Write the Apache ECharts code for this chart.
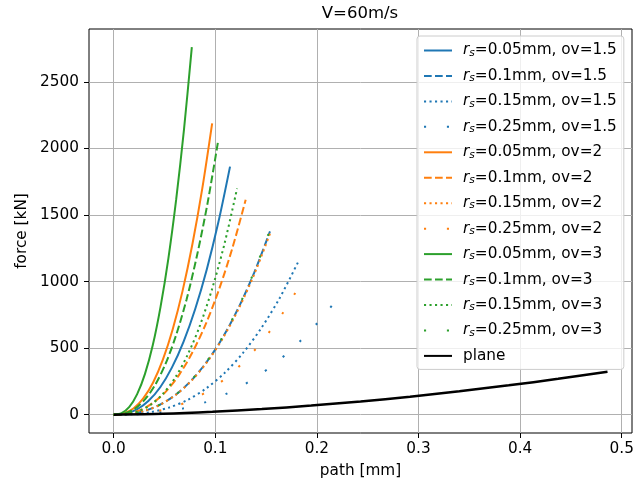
<!DOCTYPE html>
<html>
<head>
<meta charset="utf-8">
<script src="https://cdn.jsdelivr.net/npm/echarts@6/dist/echarts.min.js"></script>
<style>
html,body{margin:0;padding:0;background:#fff;}
#chart{width:643px;height:484px;}
</style>
</head>
<body>
<div id="chart"></div>
<script>
// ---- data ----
const xTicks = [0, 0.1, 0.2, 0.3, 0.4, 0.5];
const yTicks = [0, 500, 1000, 1500, 2000, 2500];

// ov = 1.5 (blue)
const path_005_15 = [0, 0.01145, 0.0229, 0.03435, 0.0458, 0.05725, 0.0687, 0.08015, 0.0916, 0.10305, 0.1145];
const force_005_15 = [0, 7, 39, 104, 206, 353, 547, 792, 1091, 1447, 1864];
const path_01_15 = [0, 0.0154, 0.0308, 0.0461, 0.0615, 0.0769, 0.0923, 0.1077, 0.123, 0.1384, 0.1538];
const force_01_15 = [0, 5, 29, 77, 152, 261, 404, 585, 806, 1069, 1377];
const path_015_15 = [0, 0.0182, 0.0364, 0.0546, 0.0728, 0.091, 0.1091, 0.1273, 0.1455, 0.1637, 0.1819];
const force_015_15 = [0, 3, 19, 54, 111, 197, 313, 464, 653, 881, 1153];
const path_025_15 = [0, 0.0226, 0.0453, 0.0679, 0.0906, 0.1132, 0.1358, 0.1585, 0.1811, 0.2038, 0.2264];
const force_025_15 = [0, 3, 17, 46, 94, 165, 260, 383, 534, 717, 933];

// ov = 2 (orange)
const path_005_2 = [0, 0.0097, 0.0194, 0.0291, 0.0388, 0.0485, 0.0581, 0.0678, 0.0775, 0.0872, 0.0969];
const force_005_2 = [0, 9, 46, 122, 242, 415, 642, 930, 1282, 1700, 2189];
const path_01_2 = [0, 0.013, 0.026, 0.039, 0.052, 0.065, 0.0779, 0.0909, 0.1039, 0.1169, 0.1299];
const force_01_2 = [0, 6, 34, 90, 179, 306, 474, 686, 946, 1254, 1615];
const path_015_2 = [0, 0.0154, 0.0308, 0.0461, 0.0615, 0.0769, 0.0923, 0.1077, 0.123, 0.1384, 0.1538];
const force_015_2 = [0, 5, 29, 76, 151, 258, 399, 578, 796, 1056, 1360];
const path_025_2 = [0, 0.0187, 0.0375, 0.0562, 0.075, 0.0937, 0.1124, 0.1312, 0.1499, 0.1687, 0.1874];
const force_025_2 = [0, 3, 18, 51, 104, 182, 287, 421, 588, 790, 1028];

// ov = 3 (green)
const path_005_3 = [0, 0.0077, 0.0154, 0.0231, 0.0308, 0.0385, 0.0461, 0.0538, 0.0615, 0.0692, 0.0769];
const force_005_3 = [0, 11, 58, 154, 306, 523, 810, 1173, 1617, 2144, 2762];
const path_01_3 = [0, 0.0103, 0.0205, 0.0308, 0.041, 0.0513, 0.0615, 0.0718, 0.082, 0.0923, 0.1025];
const force_01_3 = [0, 8, 43, 114, 226, 387, 599, 868, 1196, 1586, 2043];
const path_015_3 = [0, 0.0121, 0.0243, 0.0364, 0.0486, 0.0607, 0.0728, 0.085, 0.0971, 0.1093, 0.1214];
const force_015_3 = [0, 4, 26, 74, 157, 280, 450, 672, 951, 1292, 1699];
const path_025_3 = [0, 0.0153, 0.0306, 0.0458, 0.0611, 0.0764, 0.0917, 0.107, 0.1222, 0.1375, 0.1528];
const force_025_3 = [0, 5, 29, 76, 151, 259, 401, 581, 800, 1061, 1367];

// plane
const path_plane = [0, 0.0486, 0.0972, 0.1458, 0.1944, 0.243, 0.2916, 0.3402, 0.3888, 0.4374, 0.486];
const force_plane = [0, 6, 21, 42, 68, 99, 135, 176, 220, 269, 322];

// ---- styling ----
const FONT = 'DejaVu Sans';
const FS = 15.3;
const BLUE = '#1f77b4', ORANGE = '#ff7f0e', GREEN = '#2ca02c', BLACK = '#000000';
const SOLID = 'solid', DASHED = [7.7, 3.3], DOTTED = [2.1, 3.4], LOOSE = [2.1, 20.8];

function mk(name, xs, ys, color, dash, width) {
  return {
    name: name,
    type: 'line',
    data: xs.map((x, i) => [x, ys[i]]),
    symbol: 'none',
    smooth: 0.3,
    lineStyle: { color: color, width: width || 2, type: dash, cap: 'butt' },
    itemStyle: { color: color },
    emphasis: { disabled: true },
    animation: false
  };
}

const series = [
  mk('rs=0.05mm, ov=1.5', path_005_15, force_005_15, BLUE, SOLID),
  mk('rs=0.1mm, ov=1.5', path_01_15, force_01_15, BLUE, DASHED),
  mk('rs=0.15mm, ov=1.5', path_015_15, force_015_15, BLUE, DOTTED),
  mk('rs=0.25mm, ov=1.5', path_025_15, force_025_15, BLUE, LOOSE),
  mk('rs=0.05mm, ov=2', path_005_2, force_005_2, ORANGE, SOLID),
  mk('rs=0.1mm, ov=2', path_01_2, force_01_2, ORANGE, DASHED),
  mk('rs=0.15mm, ov=2', path_015_2, force_015_2, ORANGE, DOTTED),
  mk('rs=0.25mm, ov=2', path_025_2, force_025_2, ORANGE, LOOSE),
  mk('rs=0.05mm, ov=3', path_005_3, force_005_3, GREEN, SOLID),
  mk('rs=0.1mm, ov=3', path_01_3, force_01_3, GREEN, DASHED),
  mk('rs=0.15mm, ov=3', path_015_3, force_015_3, GREEN, DOTTED),
  mk('rs=0.25mm, ov=3', path_025_3, force_025_3, GREEN, LOOSE),
  mk('plane', path_plane, force_plane, BLACK, SOLID, 2.5)
];

const chart = echarts.init(document.getElementById('chart'), null, { renderer: 'canvas' });
chart.setOption({
  animation: false,
  backgroundColor: '#ffffff',
  textStyle: { fontFamily: FONT },
  title: {
    text: 'V=60m/s',
    left: 360,
    textAlign: 'center',
    top: 5,
    padding: 0,
    textStyle: { fontFamily: FONT, fontSize: 16.5, fontWeight: 'normal', color: '#000' }
  },
  grid: {
    left: 89, top: 29, width: 543, height: 404,
    show: true, borderColor: '#000', borderWidth: 1, backgroundColor: 'transparent',
    containLabel: false
  },
  xAxis: {
    type: 'value',
    min: -0.0243, max: 0.5101,
    name: 'path [mm]',
    nameLocation: 'middle',
    nameGap: 31,
    nameTextStyle: { fontFamily: FONT, fontSize: FS, color: '#000' },
    axisLine: { show: false, onZero: false },
    axisTick: { show: true, customValues: xTicks, length: 5, lineStyle: { color: '#000', width: 1 } },
    axisLabel: { customValues: xTicks, margin: 9, fontFamily: FONT, fontSize: FS, color: '#000',
      formatter: v => v.toFixed(1) },
    splitLine: { show: true, lineStyle: { color: '#b0b0b0', width: 1 } }
  },
  yAxis: {
    type: 'value',
    min: -138, max: 2898,
    name: 'force [kN]',
    nameLocation: 'middle',
    nameRotate: 90,
    nameGap: 56,
    nameTextStyle: { fontFamily: FONT, fontSize: FS, color: '#000' },
    axisLine: { show: false, onZero: false },
    axisTick: { show: true, customValues: yTicks, length: 5, lineStyle: { color: '#000', width: 1 } },
    axisLabel: { customValues: yTicks, margin: 10, fontFamily: FONT, fontSize: FS, color: '#000',
      formatter: v => String(v) },
    splitLine: { show: true, lineStyle: { color: '#b0b0b0', width: 1 } }
  },
  legend: {
    orient: 'vertical',
    left: 417, top: 36,
    padding: [7, 7, 6, 6],
    itemWidth: 28, itemHeight: 14, itemGap: 9.95,
    backgroundColor: 'rgba(255,255,255,0.8)',
    borderColor: '#cccccc', borderWidth: 1, borderRadius: 3,
    selectedMode: false,
    itemStyle: { opacity: 0 },
    data: series.map(s => s.name),
    formatter: function (name) {
      if (name === 'plane') return '{tp|plane}';
      return '{r|r}{s|s}{t|' + name.slice(2) + '}';
    },
    textStyle: {
      fontFamily: FONT, fontSize: FS, color: '#000',
      rich: {
        r: { fontFamily: FONT, fontSize: FS, fontStyle: 'italic', color: '#000', lineHeight: 16, padding: [0, 0, 0, 6] },
        s: { fontFamily: FONT, fontSize: 10.7, fontStyle: 'italic', color: '#000', lineHeight: 9, verticalAlign: 'bottom' },
        t: { fontFamily: FONT, fontSize: FS, color: '#000', lineHeight: 16 },
        tp: { fontFamily: FONT, fontSize: FS, color: '#000', lineHeight: 16, padding: [0, 0, 0, 6] }
      }
    }
  },
  series: series
});
</script>
</body>
</html>
